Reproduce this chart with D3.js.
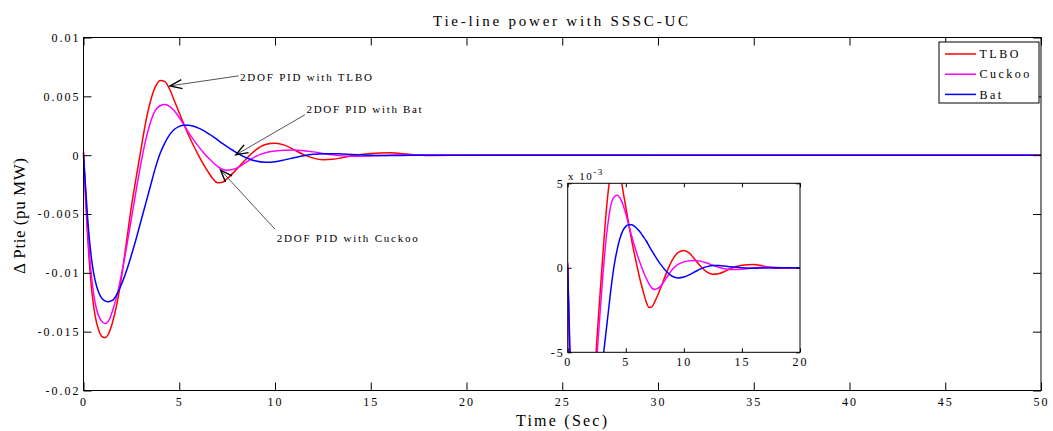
<!DOCTYPE html>
<html>
<head>
<meta charset="utf-8">
<script src="https://cdn.jsdelivr.net/npm/d3@7"></script>
<style>
  body { margin: 0; background: #fff; }
  svg text { font-family: "Liberation Serif", "DejaVu Serif", serif !important; fill: #000; }
</style>
</head>
<body>
<svg id="chart"></svg>
<script>
//data (values in 1e-3 pu MW)
const time = [0, 0.1, 0.2, 0.3, 0.45, 0.6, 0.8, 1, 1.15, 1.3, 1.5, 1.75, 2, 2.25, 2.5, 2.75, 3, 3.25, 3.5, 3.75,
  4, 4.25, 4.5, 4.75, 5, 5.25, 5.5, 5.75, 6, 6.25, 6.5, 6.75, 7, 7.25, 7.5, 8, 8.5, 9, 9.5, 10, 10.5, 11, 11.5,
  12, 12.5, 13, 13.5, 14, 15, 16, 17, 18, 20, 25, 30, 40, 50];

const tlbo = [0.3, -3.5, -6.5, -9.0, -11.8, -13.6, -14.9, -15.45, -15.5, -15.2, -14.3, -12.6, -10.2, -7.3, -4.4, -1.9,
  0.5, 2.8, 4.6, 5.8, 6.35, 6.25, 5.6, 4.6, 3.6, 2.6, 1.65, 0.8, 0.0, -0.75, -1.4, -2.0, -2.35, -2.3, -2.0,
  -1.2, -0.3, 0.45, 0.9, 1.02, 0.85, 0.45, 0.05, -0.25, -0.38, -0.35, -0.22, -0.05, 0.15, 0.2, 0.08, -0.03,
  0, 0.02, 0, 0, 0];

const cuckoo = [0.2, -3.0, -5.8, -8.2, -10.8, -12.5, -13.7, -14.2, -14.3, -14.1, -13.3, -11.9, -10.0, -7.8, -5.4, -3.0,
  -0.7, 1.3, 2.8, 3.8, 4.2, 4.3, 4.15, 3.75, 3.2, 2.55, 1.9, 1.3, 0.75, 0.25, -0.2, -0.6, -0.95, -1.2, -1.28,
  -1.1, -0.6, -0.1, 0.2, 0.35, 0.42, 0.43, 0.38, 0.28, 0.15, 0.03, -0.06, -0.1, -0.08, 0.0, 0.04, 0.02,
  0, 0, 0, 0, 0];

const bat = [0, -2.5, -5.0, -7.0, -9.2, -10.6, -11.7, -12.25, -12.4, -12.45, -12.35, -11.8, -10.9, -9.8, -8.5, -7.1,
  -5.6, -4.1, -2.6, -1.1, 0.15, 1.05, 1.75, 2.2, 2.45, 2.55, 2.55, 2.45, 2.3, 2.1, 1.85, 1.6, 1.3, 1.0, 0.72,
  0.2, -0.22, -0.5, -0.6, -0.55, -0.4, -0.22, -0.05, 0.07, 0.13, 0.13, 0.1, 0.06, 0.0, -0.03, -0.01, 0,
  0, 0, 0, 0, 0];

const seriesNames = ['TLBO', 'Cuckoo', 'Bat'];
const seriesColors = ['#ff0000', '#ff00ff', '#0000ff'];
const seriesValues = [tlbo, cuckoo, bat];

const xTicks = [0, 5, 10, 15, 20, 25, 30, 35, 40, 45, 50];
const yTicks = [-20, -15, -10, -5, 0, 5, 10];
const yTickLabels = ['-0.02', '-0.015', '-0.01', '-0.005', '0', '0.005', '0.01'];
const insetXTicks = [0, 5, 10, 15, 20];
const insetYTicks = [-5, 0, 5];

// annotation text + arrow, in data units
const notes = [
  { label: '2DOF PID with TLBO',   tip: [4.52, 5.89],  from: [8.1, 6.74],   at: [8.17, 6.31],  len: 132 },
  { label: '2DOF PID with Bat',    tip: [7.96, 0.03],  from: [11.56, 3.43], at: [11.65, 3.57], len: 115 },
  { label: '2DOF PID with Cuckoo', tip: [7.16, -1.27], from: [10.0, -6.29], at: [10.09, -7.34], len: 141 }
];

//layout
const W = 1053, H = 431;
const M = { l: 83.5, t: 37.5, r: 1041, b: 390.5 };
const I = { l: 567.7, t: 183.3, r: 800, b: 352.3 };
const SERIF = '"Liberation Serif", "DejaVu Serif", serif';

const svg = d3.select('#chart').attr('width', W).attr('height', H);
svg.append('rect').attr('width', W).attr('height', H).attr('fill', '#fff');

const x = d3.scaleLinear().domain([0, 50]).range([M.l, M.r]);
const y = d3.scaleLinear().domain([-20, 10]).range([M.b, M.t]);

const lineMain = d3.line().x(d => x(d[0])).y(d => y(d[1])).curve(d3.curveMonotoneX);

function drawAxes(g, sx, sy, box, opt) {
  const fmtY = opt.yLabels ? (d, i) => opt.yLabels[i] : d => d;
  g.append('g').attr('transform', `translate(0,${box.b})`)
    .call(d3.axisBottom(sx).tickValues(opt.xTicks).tickSize(-opt.tick).tickSizeOuter(0).tickPadding(opt.xPad))
    .call(a => a.select('.domain').remove());
  g.append('g').attr('transform', `translate(0,${box.t})`)
    .call(d3.axisTop(sx).tickValues(opt.xTicks).tickSize(-opt.tick).tickSizeOuter(0).tickFormat(''))
    .call(a => a.select('.domain').remove());
  g.append('g').attr('transform', `translate(${box.l},0)`)
    .call(d3.axisLeft(sy).tickValues(opt.yTicks).tickSize(-opt.tick).tickSizeOuter(0).tickPadding(opt.yPad).tickFormat(fmtY))
    .call(a => a.select('.domain').remove());
  g.append('g').attr('transform', `translate(${box.r},0)`)
    .call(d3.axisRight(sy).tickValues(opt.yTicks).tickSize(-opt.tick).tickSizeOuter(0).tickFormat(''))
    .call(a => a.select('.domain').remove());
  g.selectAll('g').attr('font-family', SERIF);
  g.selectAll('.tick line').attr('stroke', '#000');
  g.selectAll('.tick text')
    .attr('font-family', SERIF)
    .style('font-size', '12px')
    .style('letter-spacing', '2px');
  g.append('rect')
    .attr('x', box.l).attr('y', box.t)
    .attr('width', box.r - box.l).attr('height', box.b - box.t)
    .attr('fill', 'none').attr('stroke', '#000').attr('stroke-width', 1);
}

// main plot
const gMain = svg.append('g');
seriesValues.forEach((vals, i) => {
  gMain.append('path')
    .datum(time.map((t, k) => [t, vals[k]]))
    .attr('fill', 'none')
    .attr('stroke', seriesColors[i])
    .attr('stroke-width', 1.5)
    .attr('d', lineMain);
});
drawAxes(gMain, x, y, M, { xTicks, yTicks, yLabels: yTickLabels, tick: 8, xPad: 7, yPad: 3 });

// title and axis labels
svg.append('text')
  .attr('x', 433).attr('y', 26)
  .attr('textLength', 255).attr('lengthAdjust', 'spacing')
  .style('font-size', '15px')
  .text('Tie-line power with SSSC-UC');

svg.append('text')
  .attr('x', 516).attr('y', 426)
  .attr('textLength', 91).attr('lengthAdjust', 'spacing')
  .style('font-size', '16px')
  .text('Time (Sec)');

svg.append('text')
  .attr('transform', 'translate(25,274) rotate(-90)')
  .attr('textLength', 116).attr('lengthAdjust', 'spacing')
  .style('font-size', '17px')
  .text('\u0394 Ptie (pu MW)');

// annotations
svg.append('defs').append('marker')
  .attr('id', 'head')
  .attr('markerUnits', 'userSpaceOnUse')
  .attr('viewBox', '-14 -7 16 14')
  .attr('markerWidth', 16).attr('markerHeight', 14)
  .attr('refX', 0).attr('refY', 0)
  .attr('orient', 'auto')
  .append('path')
  .attr('d', 'M-12,-4.5 L0,0 L-12,4.5')
  .attr('fill', 'none').attr('stroke', '#000').attr('stroke-width', 1.4);

notes.forEach(n => {
  svg.append('line')
    .attr('x1', x(n.from[0])).attr('y1', y(n.from[1]))
    .attr('x2', x(n.tip[0])).attr('y2', y(n.tip[1]))
    .attr('stroke', '#555').attr('stroke-width', 1)
    .attr('marker-end', 'url(#head)');
  svg.append('text')
    .attr('x', x(n.at[0])).attr('y', y(n.at[1]))
    .attr('textLength', n.len).attr('lengthAdjust', 'spacing')
    .style('font-size', '11px')
    .text(n.label);
});

// legend
const leg = svg.append('g').attr('transform', 'translate(939,42)');
leg.append('rect').attr('width', 100).attr('height', 61)
  .attr('fill', '#fff').attr('stroke', '#000').attr('stroke-width', 1);
seriesNames.forEach((name, i) => {
  const ly = 12 + i * 20.2;
  leg.append('line').attr('x1', 6).attr('x2', 37).attr('y1', ly).attr('y2', ly)
    .attr('stroke', seriesColors[i]).attr('stroke-width', 1.5);
  leg.append('text').attr('x', 40.5).attr('y', ly).attr('dy', '0.35em')
    .style('font-size', '12px').style('letter-spacing', '2.5px')
    .text(name);
});

// inset
const xi = d3.scaleLinear().domain([0, 20]).range([I.l, I.r]);
const yi = d3.scaleLinear().domain([-5, 5]).range([I.b, I.t]);
const lineInset = d3.line().x(d => xi(d[0])).y(d => yi(d[1])).curve(d3.curveMonotoneX);

const gIn = svg.append('g');
gIn.append('rect')
  .attr('x', I.l).attr('y', I.t).attr('width', I.r - I.l).attr('height', I.b - I.t)
  .attr('fill', '#fff');
svg.select('defs').append('clipPath').attr('id', 'insetClip')
  .append('rect')
  .attr('x', I.l).attr('y', I.t).attr('width', I.r - I.l).attr('height', I.b - I.t);
const gInLines = gIn.append('g').attr('clip-path', 'url(#insetClip)');
seriesValues.forEach((vals, i) => {
  gInLines.append('path')
    .datum(time.map((t, k) => [t, vals[k]]).filter(d => d[0] <= 25))
    .attr('fill', 'none')
    .attr('stroke', seriesColors[i])
    .attr('stroke-width', 1.5)
    .attr('d', lineInset);
});
drawAxes(gIn, xi, yi, I, { xTicks: insetXTicks, yTicks: insetYTicks, tick: 4, xPad: 5, yPad: 3 });

// exponent label
const expo = svg.append('text').attr('x', 568).attr('y', 179.5)
  .style('font-size', '11px').style('letter-spacing', '1.5px');
expo.append('tspan').text('x 10');
expo.append('tspan').attr('dy', -5).style('font-size', '9px').text('-3');
</script>
</body>
</html>
